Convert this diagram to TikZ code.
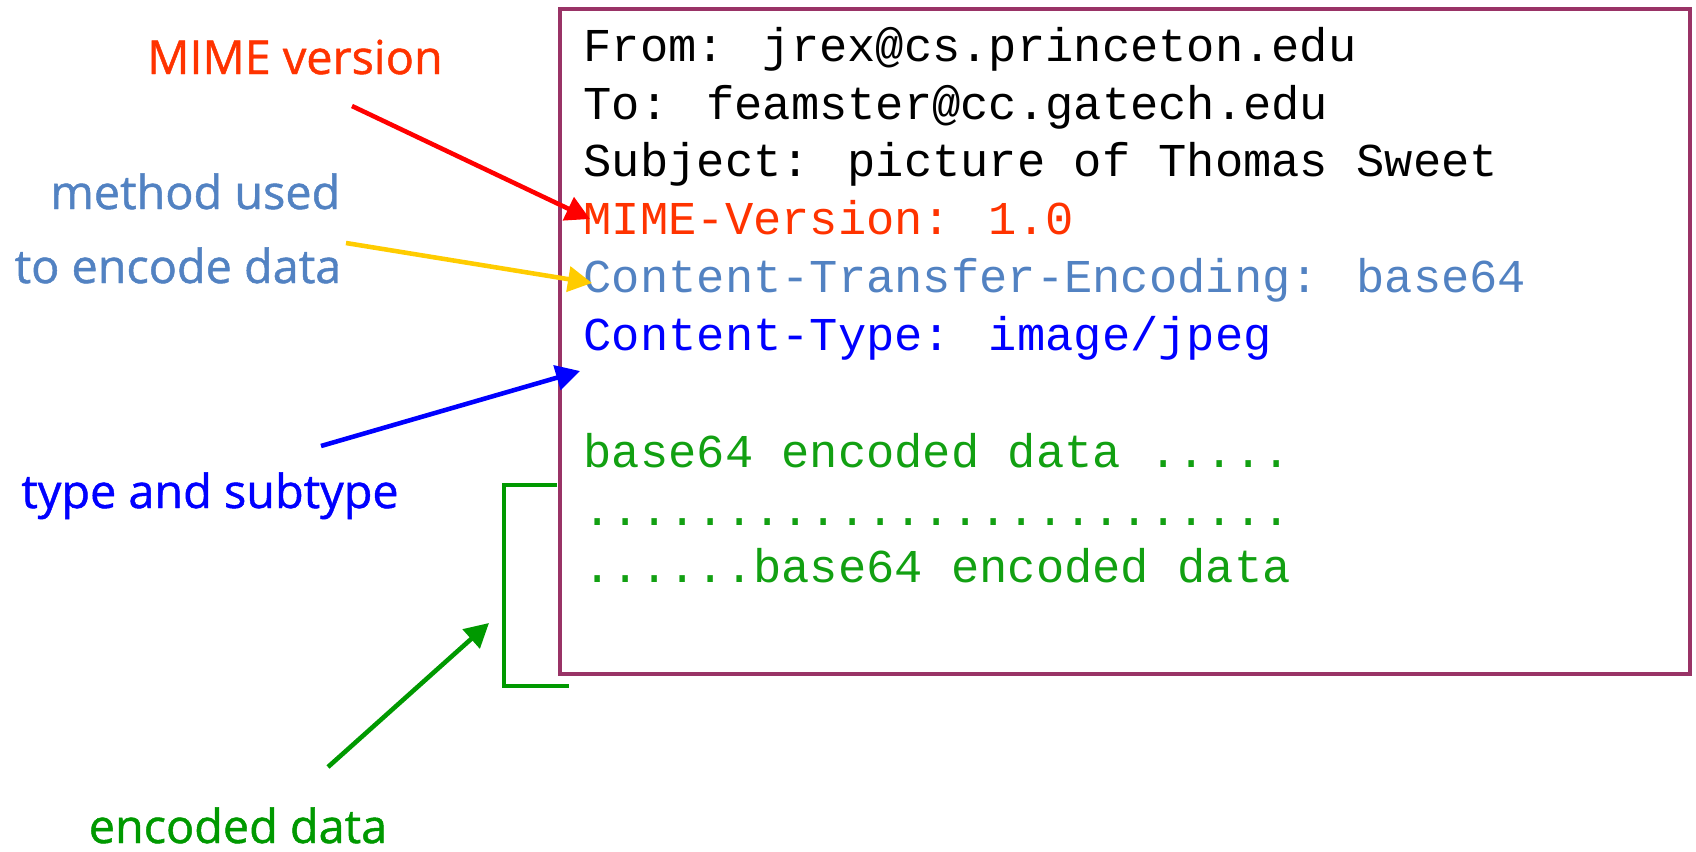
\documentclass[tikz,border=0pt]{standalone}
\usepackage{fontspec}
\usetikzlibrary{arrows.meta}
\newfontfamily\mailfont{Liberation Mono}
\newfontfamily\notefont[FakeBold=1]{Open Sans}
\definecolor{mimeorange}{HTML}{FF3300}
\definecolor{steelblue}{HTML}{5282C2}
\definecolor{arrowyellow}{HTML}{FFCC00}
\definecolor{datagreen}{HTML}{009900}
\definecolor{textgreen}{HTML}{12A012}
\definecolor{boxplum}{HTML}{993366}
\tikzset{
  mailline/.style={anchor=base west, inner sep=0pt, font=\mailfont\fontsize{13.4pt}{16pt}\selectfont},
  note/.style={inner sep=0pt, font=\notefont\fontsize{13.3pt}{16pt}\selectfont},
  pointer/.style={line width=1.3pt, -{Triangle[length=0.24cm,width=0.25cm]}}
}

\begin{document}
\begin{tikzpicture}[x=0.01cm,y=-0.01cm]
        \useasboundingbox (0,0) rectangle (1696,851);
        %\draw (0,0) -- (1696,0) -- (1696,851) -- (0,851) -- cycle;
        \draw[boxplum, line width=1.3pt] (560,9) rectangle (1690,674);
        
        % mail header and body
        \node[mailline] (from) at (583,61.5) {From: jrex@cs.princeton.edu};
        \node[mailline] (to) at (583,119) {To: feamster@cc.gatech.edu};
        \node[mailline] (subj) at (583,176.5) {Subject: picture of Thomas Sweet};
        \node[mailline, mimeorange] (mimever) at (583,234.5) {MIME-Version: 1.0};
        \node[mailline, steelblue] (cte) at (583,292.5) {Content-Transfer-Encoding: base64};
        \node[mailline, blue] (ctype) at (583,350) {Content-Type: image/jpeg};
        \node[mailline, textgreen] (dataA) at (583,467.5) {base64 encoded data .....};
        \node[mailline, textgreen] (dataB) at (583,525) {.........................};
        \node[mailline, textgreen] (dataC) at (583,582.5) {......base64 encoded data};
        
        % labels on the left
        \node[note, mimeorange, anchor=base] (mimelbl) at (295,74) {MIME version};
        \node[note, steelblue, anchor=base east] (methodA) at (341,209) {method used};
        \node[note, steelblue, anchor=base east] (methodB) at (342,283) {to encode data};
        \node[note, blue, anchor=base] (typelbl) at (210,508) {type and subtype};
        \node[note, datagreen, anchor=base] (datalbl) at (238,843) {encoded data};
        
        \coordinate (redtail) at (352,106);
        \coordinate (redtip) at (590,219);
        \coordinate (yellowtail) at (346,243);
        \coordinate (yellowtip) at (592,283);
        \coordinate (bluetail) at (321,446);
        \coordinate (bluetip) at (580,371);
        \coordinate (greentail) at (328,767);
        \coordinate (greentip) at (489,623);
        \draw[pointer, red] (redtail) -- (redtip);
        \draw[pointer, arrowyellow] (yellowtail) -- (yellowtip);
        \draw[pointer, blue] (bluetail) -- (bluetip);
        \draw[pointer, datagreen] (greentail) -- (greentip);
        
        %括住編碼資料
        \draw[datagreen, line width=1pt] (557,485) -- (504,485) -- (504,686) -- (569,686);
        \end{tikzpicture}
\end{document}
